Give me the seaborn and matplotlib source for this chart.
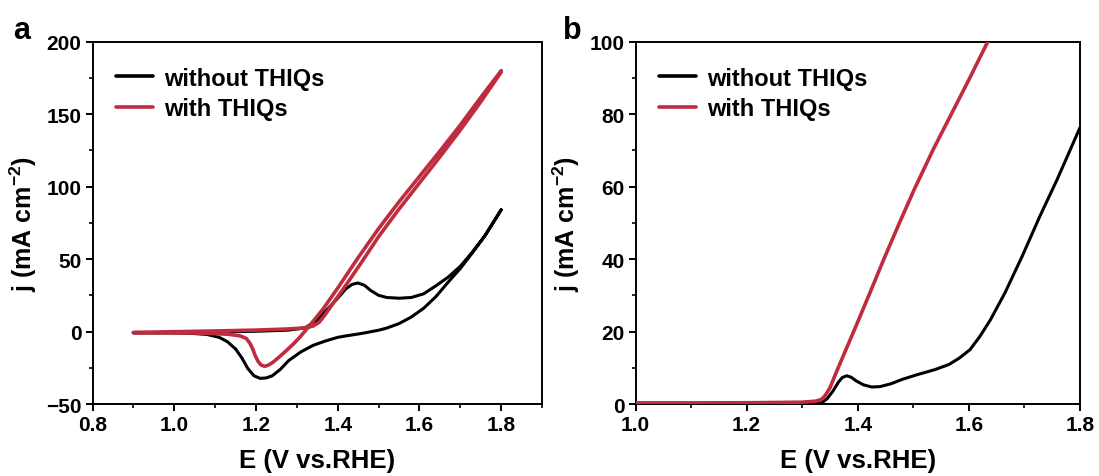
import numpy as np
import pandas as pd
import matplotlib
matplotlib.use("Agg")
import matplotlib.pyplot as plt
import seaborn as sns
from matplotlib.ticker import MultipleLocator

# ---------------- data ----------------
series_names = ["without THIQs", "with THIQs"]

# Panel a: CV, black (without THIQs) – anodic then cathodic branch
a_black_fwd_E = [0.90, 1.00, 1.10, 1.20, 1.28, 1.32, 1.35, 1.38, 1.40, 1.42, 1.435, 1.449,
                 1.465, 1.48, 1.50, 1.52, 1.55, 1.58, 1.61, 1.64, 1.67, 1.70, 1.73, 1.76, 1.80]
a_black_fwd_j = [-0.8, -0.6, -0.3, 0.2, 1.0, 2.5, 8.0, 17.0, 23.0, 29.5, 32.5, 33.5,
                 32.0, 28.5, 25.0, 23.5, 23.0, 23.5, 26.0, 31.5, 37.5, 45.0, 55.0, 66.0, 84.0]
a_black_rev_E = [1.80, 1.76, 1.73, 1.70, 1.67, 1.64, 1.61, 1.58, 1.55, 1.52, 1.50, 1.47,
                 1.45, 1.42, 1.40, 1.37, 1.34, 1.31, 1.28, 1.26, 1.24, 1.225, 1.21, 1.195,
                 1.18, 1.165, 1.15, 1.13, 1.11, 1.08, 1.04, 1.00, 0.95, 0.90]
a_black_rev_j = [84.0, 66.0, 54.5, 43.5, 34.0, 24.0, 16.0, 10.0, 5.5, 2.4, 0.9, -0.7,
                 -1.7, -3.0, -4.0, -6.5, -9.5, -14.0, -20.0, -26.0, -30.5, -32.0, -32.3, -30.5,
                 -25.5, -18.0, -12.0, -7.0, -4.0, -2.0, -1.2, -1.0, -0.9, -0.8]

# Panel a: CV, red (with THIQs)
a_red_fwd_E = [0.90, 1.00, 1.10, 1.20, 1.28, 1.32, 1.34, 1.355, 1.37, 1.39, 1.42, 1.46,
               1.50, 1.55, 1.60, 1.65, 1.70, 1.75, 1.80]
a_red_fwd_j = [-0.6, -0.1, 0.4, 1.0, 1.8, 2.6, 3.8, 6.5, 12.0, 20.0, 32.0, 48.5,
               65.5, 84.5, 102.5, 120.5, 139.0, 158.5, 179.0]
a_red_rev_E = [1.80, 1.75, 1.70, 1.65, 1.60, 1.55, 1.50, 1.45, 1.40, 1.364, 1.331, 1.307,
               1.29, 1.274, 1.255, 1.241, 1.23, 1.221, 1.212, 1.205, 1.198, 1.192, 1.185,
               1.176, 1.16, 1.13, 1.05, 0.90]
a_red_rev_j = [180.0, 161.5, 142.5, 124.5, 107.0, 89.5, 71.0, 51.0, 30.0, 15.5, 4.0, -4.0,
               -9.0, -13.2, -18.0, -21.3, -23.2, -24.0, -23.0, -20.5, -16.5, -12.0, -8.0,
               -4.7, -2.9, -1.8, -1.0, -0.8]

# Panel b: LSV
b_black_E = [1.00, 1.10, 1.20, 1.30, 1.335, 1.345, 1.355, 1.365, 1.372, 1.380, 1.388, 1.397,
             1.41, 1.425, 1.44, 1.46, 1.48, 1.507, 1.539, 1.564, 1.583, 1.602, 1.620, 1.639,
             1.665, 1.696, 1.728, 1.759, 1.80]
b_black_j = [0.2, 0.2, 0.2, 0.2, 0.3, 1.5, 3.5, 6.0, 7.3, 7.8, 7.4, 6.4,
             5.3, 4.7, 4.8, 5.6, 6.8, 8.1, 9.5, 10.9, 12.7, 15.0, 18.7, 23.3,
             30.7, 40.8, 51.9, 62.0, 76.3]
b_red_E = [1.00, 1.10, 1.20, 1.30, 1.325, 1.335, 1.342, 1.35, 1.362, 1.38, 1.394, 1.42,
           1.447, 1.475, 1.501, 1.535, 1.570, 1.60, 1.634, 1.642]
b_red_j = [0.3, 0.3, 0.35, 0.5, 0.8, 1.3, 2.5, 4.5, 9.0, 15.5, 20.5, 30.0,
           40.0, 50.0, 59.0, 70.0, 80.5, 89.5, 100.0, 102.5]

x_label = "E (V vs.RHE)"
y_label = r"j (mA cm$^{-2}$)"
panel_labels = ["a", "b"]

# ---------------- style ----------------
sns.set_theme(style="ticks")
plt.rcParams["font.family"] = ["Liberation Sans", "DejaVu Sans"]
plt.rcParams["font.weight"] = "bold"
plt.rcParams["axes.labelweight"] = "bold"
plt.rcParams["text.color"] = "black"
plt.rcParams["axes.labelcolor"] = "black"
plt.rcParams["xtick.color"] = "black"
plt.rcParams["ytick.color"] = "black"
plt.rcParams["axes.edgecolor"] = "black"
plt.rcParams["mathtext.fontset"] = "custom"
plt.rcParams["mathtext.rm"] = "Liberation Sans:bold"
plt.rcParams["mathtext.bf"] = "Liberation Sans:bold"
plt.rcParams["mathtext.default"] = "bf"

BLACK = "#000000"
RED = "#BF2B3F"
palette = {series_names[0]: BLACK, series_names[1]: RED}

def make_df(E_list, j_list, name):
    return pd.DataFrame({"E": E_list, "j": j_list, "series": name,
                         "order": np.arange(len(E_list))})

df_a = pd.concat([
    make_df(a_black_fwd_E + a_black_rev_E, a_black_fwd_j + a_black_rev_j, series_names[0]),
    make_df(a_red_fwd_E + a_red_rev_E, a_red_fwd_j + a_red_rev_j, series_names[1]),
], ignore_index=True)
df_b = pd.concat([
    make_df(b_black_E, b_black_j, series_names[0]),
    make_df(b_red_E, b_red_j, series_names[1]),
], ignore_index=True)

fig = plt.figure(figsize=(10.99, 4.77), dpi=100)
ax_a = fig.add_axes([0.0842, 0.1509, 0.4090, 0.7596])
ax_b = fig.add_axes([0.5783, 0.1509, 0.4044, 0.7596])

for ax, df in [(ax_a, df_a), (ax_b, df_b)]:
    sns.lineplot(data=df, x="E", y="j", hue="series", palette=palette,
                 hue_order=series_names, sort=False, estimator=None, ax=ax,
                 linewidth=2.2)
    for line in ax.get_lines():
        line.set_solid_joinstyle("round")
        line.set_solid_capstyle("round")
        if matplotlib.colors.to_hex(line.get_color()).lower() == RED.lower():
            line.set_linewidth(2.6)
            line.set_zorder(3)
        else:
            line.set_zorder(2)

ax_a.set_xlim(0.8, 1.9)
ax_a.set_ylim(-50, 200)
ax_a.xaxis.set_major_locator(MultipleLocator(0.2))
ax_a.xaxis.set_minor_locator(MultipleLocator(0.1))
ax_a.yaxis.set_major_locator(MultipleLocator(50))
ax_a.yaxis.set_minor_locator(MultipleLocator(25))

ax_b.set_xlim(1.0, 1.8)
ax_b.set_ylim(0, 100)
ax_b.xaxis.set_major_locator(MultipleLocator(0.2))
ax_b.xaxis.set_minor_locator(MultipleLocator(0.1))
ax_b.yaxis.set_major_locator(MultipleLocator(20))
ax_b.yaxis.set_minor_locator(MultipleLocator(10))

for ax, lab, lx in [(ax_a, panel_labels[0], 0.012), (ax_b, panel_labels[1], 0.512)]:
    ax.set_xlabel(x_label, fontsize=18.5, fontweight="bold", labelpad=10)
    ax.set_ylabel(y_label, fontsize=18, fontweight="bold", labelpad=5)
    ax.xaxis.set_major_formatter(matplotlib.ticker.FormatStrFormatter("%.1f"))
    ax.tick_params(axis="both", which="major", direction="out", length=5, width=1.4,
                   labelsize=15, pad=3, top=False, right=False, colors="black")
    ax.tick_params(axis="both", which="minor", direction="out", length=3, width=1.2,
                   top=False, right=False, colors="black")
    for t in ax.get_xticklabels() + ax.get_yticklabels():
        t.set_fontweight("bold")
    for s in ax.spines.values():
        s.set_linewidth(1.4)
        s.set_color("black")
        s.set_visible(True)
    leg = ax.legend(loc="upper left", bbox_to_anchor=(0.02, 0.97), frameon=False,
                    prop={"size": 17, "weight": "bold"}, handlelength=1.6,
                    handletextpad=0.45, labelspacing=0.3, borderaxespad=0.2)
    for h in leg.get_lines():
        h.set_linewidth(2.6)
    for t in leg.get_texts():
        t.set_color("black")
    fig.text(lx, 0.935, lab, fontsize=22, fontweight="bold", ha="left", va="center",
             color="black")

fig.savefig("out.png", dpi=100)
